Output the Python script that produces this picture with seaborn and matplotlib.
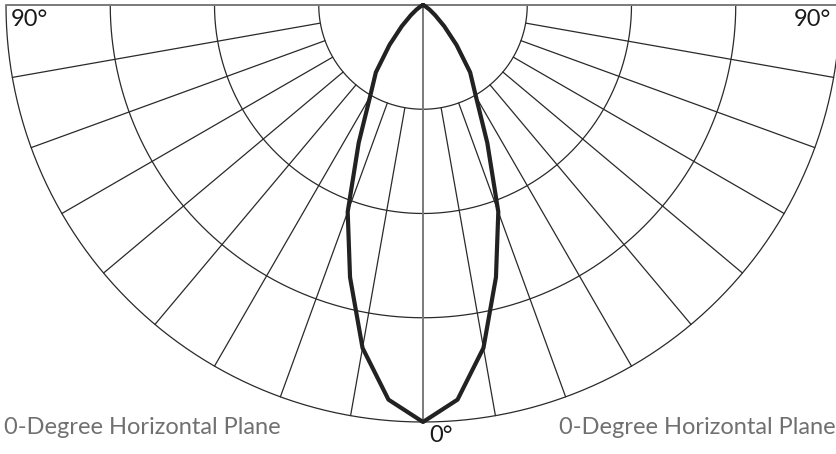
import numpy as np
import pandas as pd
import seaborn as sns
from matplotlib import pyplot as plt

# Candela distribution, 0-degree horizontal plane (percent of peak)
angles = [0, 5, 10, 15, 20, 25, 30, 35, 40, 45, 50, 55, 60, 65, 70, 75, 80, 85, 90]
candela = [100, 95, 83.5, 67.6, 52.8, 36.5, 25.4, 19.7, 12.5, 7.2, 3.8, 1.9, 0.7, 0.2, 0, 0, 0, 0, 0]

# Grid
ring_values = [25, 50, 75, 100]
spoke_angles = [10, 20, 30, 40, 50, 60, 70, 80]
plane_label = '0-Degree Horizontal Plane'

sns.set_theme(style='white')
plt.rcParams['font.family'] = ['Lato', 'DejaVu Sans']

# pixel scale: peak value = 417 px, centre at (423, 5) in an 836x454 image
W, H = 836, 454
cx, cy = 423, 5
px = 417 / max(ring_values)

fig = plt.figure(figsize=(W / 100, H / 100), dpi=100)
ax = fig.add_axes([0, 0, 1, 1])
ax.set_xlim(-cx / px, (W - cx) / px)
ax.set_ylim(-(H - cy) / px, cy / px)
ax.axis('off')

grid_kw = dict(color='#2a2a2a', lw=0.9, zorder=1)
t = np.radians(np.linspace(-90, 90, 361))
for r in ring_values:
    ax.plot(r * np.sin(t), -r * np.cos(t), **grid_kw)

r0, r1 = ring_values[0], ring_values[-1]
for a in spoke_angles:
    for s in (-1, 1):
        th = np.radians(s * a)
        ax.plot([r0 * np.sin(th), r1 * np.sin(th)], [-r0 * np.cos(th), -r1 * np.cos(th)], **grid_kw)

# 0 and 90 degree axes in grey
ax.plot([0, 0], [0, -r1], color='#7a7a7a', lw=1.4, zorder=2)
ax.plot([-r1, r1], [0, 0], color='#7a7a7a', lw=1.4, zorder=2)

# Lobe, mirrored for both sides of nadir
full_angles = [-a for a in angles[::-1]] + angles[1:]
full_values = candela[::-1] + candela[1:]
df = pd.DataFrame({'angle': full_angles, 'value': full_values})
df['x'] = df['value'] * np.sin(np.radians(df['angle']))
df['y'] = -df['value'] * np.cos(np.radians(df['angle']))
sns.lineplot(data=df, x='x', y='y', sort=False, estimator=None, color='#222222',
             lw=3.0, ax=ax, zorder=3)
ax.set_xlabel('')
ax.set_ylabel('')

# Labels
ax.text(11 / W, 1 - 9 / H, '90°', transform=ax.transAxes, ha='left', va='top',
        fontsize=17, color='#1a1a1a')
ax.text(831 / W, 1 - 9 / H, '90°', transform=ax.transAxes, ha='right', va='top',
        fontsize=17, color='#1a1a1a')
ax.text(429 / W, 1 - 425 / H, '0°', transform=ax.transAxes, ha='left', va='top',
        fontsize=17, color='#1a1a1a')
ax.text(4 / W, 1 - 417 / H, plane_label, transform=ax.transAxes, ha='left', va='top',
        fontsize=17, color='#707070')
ax.text(836 / W, 1 - 417 / H, plane_label, transform=ax.transAxes, ha='right', va='top',
        fontsize=17, color='#707070')

plt.savefig('out.png', dpi=100)
